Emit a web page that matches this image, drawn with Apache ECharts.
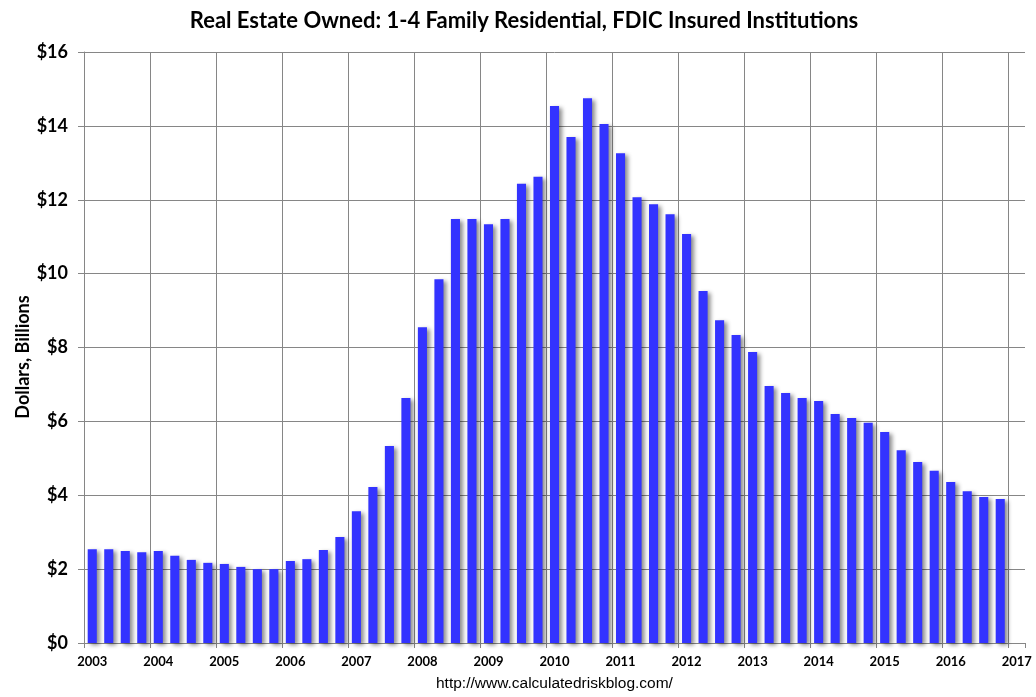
<!DOCTYPE html>
<html>
<head>
<meta charset="utf-8">
<script src="https://cdn.jsdelivr.net/npm/echarts@6/dist/echarts.min.js"></script>
<style>
html,body{margin:0;padding:0;background:#fff;}
#chart{width:1036px;height:697px;}
</style>
</head>
<body>
<div id="chart"></div>
<script>
var years = [2003, 2004, 2005, 2006, 2007, 2008, 2009, 2010, 2011, 2012, 2013, 2014, 2015, 2016];
var endYear = 2017;
var reoValues = [
  2.54, 2.54, 2.49, 2.46,
  2.49, 2.36, 2.25, 2.17,
  2.14, 2.06, 2.00, 2.00,
  2.22, 2.27, 2.52, 2.87,
  3.57, 4.22, 5.33, 6.63,
  8.55, 9.85, 11.48, 11.48,
  11.34, 11.48, 12.43, 12.62,
  14.54, 13.70, 14.75, 14.05,
  13.26, 12.07, 11.88, 11.61,
  11.07, 9.53, 8.74, 8.34,
  7.88, 6.96, 6.77, 6.63,
  6.55, 6.20, 6.09, 5.96,
  5.71, 5.22, 4.90, 4.66,
  4.36, 4.11, 3.95, 3.90
];
var yTicks = [0, 2, 4, 6, 8, 10, 12, 14, 16];

var categories = [];
years.forEach(function (y) {
  for (var q = 1; q <= 4; q++) categories.push(y + ' Q' + q);
});
categories.push(endYear + ' Q1');

var gridColor = '#868686';
// one colour per year boundary (2003..2017); the plot's right edge gets no line
var vLineColors = [];
for (var i = 0; i <= years.length; i++) vLineColors.push(gridColor);
vLineColors.push('rgba(0,0,0,0)');

var chart = echarts.init(document.getElementById('chart'), null, {renderer: 'canvas'});
chart.setOption({
  backgroundColor: '#ffffff',
  animation: false,
  title: {
    text: 'Real Estate Owned: 1-4 Family Residential, FDIC Insured Institutions',
    left: 519, top: 5, textAlign: 'center',
    textStyle: {fontFamily: 'Lato', fontWeight: 'bold', fontSize: 22, color: '#000'}
  },
  graphic: [{
    type: 'text', left: 436, top: 676,
    style: {text: 'http://www.calculatedriskblog.com/', font: '15.5px "Liberation Sans"', fill: '#000'}
  }, {
    type: 'text', x: 23, y: 357, rotation: Math.PI / 2,
    style: {text: 'Dollars, Billions', font: 'bold 18px Lato', fill: '#000', align: 'center', verticalAlign: 'middle'}
  }],
  grid: {left: 84, right: 11, top: 52, bottom: 54, containLabel: false},
  xAxis: {
    type: 'category',
    data: categories,
    boundaryGap: true,
    axisLine: {show: true, lineStyle: {color: gridColor, width: 1}},
    axisTick: {show: true, interval: 3, length: 5, lineStyle: {color: gridColor}},
    axisLabel: {
      interval: 3, margin: 12,
      fontFamily: 'Lato', fontWeight: 'bold', fontSize: 13, color: '#000',
      formatter: function (v) { return v.split(' ')[0]; }
    },
    splitLine: {show: true, interval: 3, lineStyle: {color: vLineColors, width: 1}}
  },
  yAxis: {
    type: 'value', min: 0, max: 16, interval: 2,
    axisLine: {show: true, lineStyle: {color: gridColor, width: 1}},
    axisTick: {show: true, length: 6, lineStyle: {color: gridColor}},
    axisLabel: {
      margin: 16, fontFamily: 'Lato', fontWeight: 'bold', fontSize: 18, color: '#000',
      formatter: function (v) { return yTicks.indexOf(v) >= 0 ? '$' + v : ''; }
    },
    splitLine: {show: true, lineStyle: {color: gridColor, width: 1}}
  },
  series: [{
    type: 'bar',
    data: reoValues,
    barWidth: '55%',
    itemStyle: {
      color: '#3333ff',
      shadowColor: 'rgba(0,0,0,0.45)',
      shadowBlur: 4,
      shadowOffsetX: 3,
      shadowOffsetY: 2
    }
  }]
});
</script>
</body>
</html>
